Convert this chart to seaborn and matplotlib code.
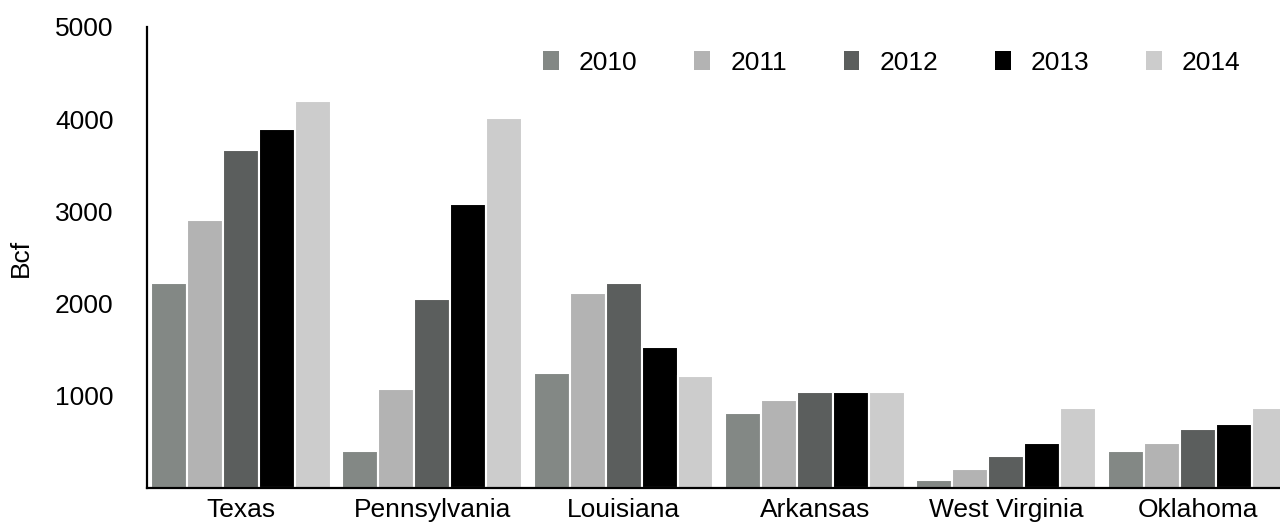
# Natural gas production by state, 2010-2014
import pandas as pd
import matplotlib.pyplot as plt
import seaborn as sns

# Data (Bcf)
states = ['Texas', 'Pennsylvania', 'Louisiana', 'Arkansas', 'West Virginia', 'Oklahoma']
years = ['2010', '2011', '2012', '2013', '2014']
y2010 = [2225, 400, 1245, 810, 85, 400]
y2011 = [2910, 1070, 2110, 950, 205, 485]
y2012 = [3670, 2045, 2220, 1040, 345, 640]
y2013 = [3895, 3080, 1530, 1040, 485, 695]
y2014 = [4195, 4015, 1215, 1040, 870, 870]
colors = ['#838885', '#b3b3b3', '#5b5e5d', '#000000', '#cccccc']

# Long-form table for seaborn
df = pd.DataFrame({'State': states, '2010': y2010, '2011': y2011,
                   '2012': y2012, '2013': y2013, '2014': y2014})
df = df.melt(id_vars='State', var_name='Year', value_name='Bcf')

sns.set_style('white')
plt.rcParams['font.family'] = ['Liberation Sans', 'DejaVu Sans']
plt.rcParams['text.color'] = 'black'
plt.rcParams['axes.labelcolor'] = 'black'
plt.rcParams['xtick.color'] = 'black'
plt.rcParams['ytick.color'] = 'black'

fig = plt.figure(figsize=(12.8, 5.26), dpi=100)
ax = fig.add_axes([147 / 1280, 38 / 526, 1 - 147 / 1280, (488 - 27) / 526])

sns.barplot(data=df, x='State', y='Bcf', hue='Year', hue_order=years,
            palette=colors, width=0.94, edgecolor='white', linewidth=1.5,
            saturation=1, errorbar=None, ax=ax)

ax.set_ylim(0, 5000)
ax.set_xlim(-0.49, 5.43)
ax.set_yticks([1000, 2000, 3000, 4000, 5000])
ax.set_xlabel('')
ax.set_ylabel('Bcf', fontsize=19, labelpad=16)
ax.tick_params(axis='y', length=0, pad=24, labelsize=19)
ax.tick_params(axis='x', length=0, pad=7, labelsize=19)

for side in ['top', 'right']:
    ax.spines[side].set_visible(False)
for side in ['left', 'bottom']:
    ax.spines[side].set_color('black')
    ax.spines[side].set_linewidth(1.6)

# Legend: one row of small squares, no frame
handles, labels = ax.get_legend_handles_labels()
leg = ax.legend(handles, labels, ncol=5, frameon=False,
                loc='center left', bbox_to_anchor=(543 / 1280, 1 - 63 / 526),
                bbox_transform=fig.transFigure, borderpad=0, borderaxespad=0,
                handlelength=0.6, handleheight=0.75, handletextpad=0.76,
                columnspacing=2.15, fontsize=19)
for h in leg.legend_handles:
    h.set_edgecolor('none')

plt.savefig('out.png', dpi=100)
